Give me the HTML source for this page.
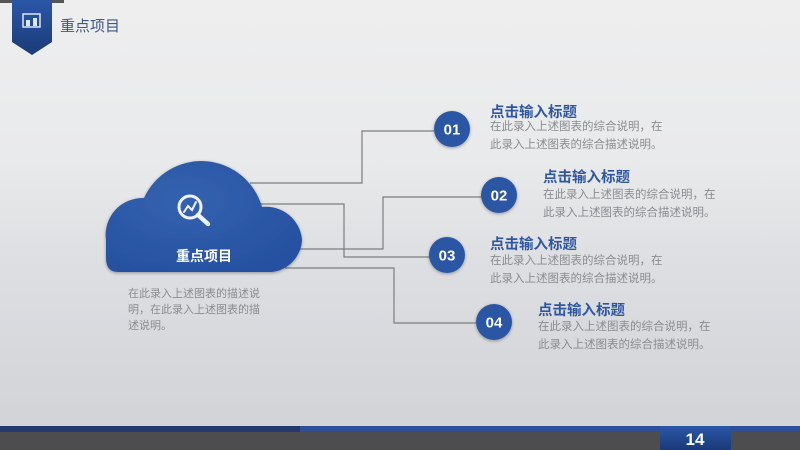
<!DOCTYPE html>
<html><head><meta charset="utf-8"><style>
html,body{margin:0;padding:0}
body{width:800px;height:450px;overflow:hidden;position:relative;font-family:"Liberation Sans","Noto Sans CJK SC",sans-serif;background:linear-gradient(180deg,#eeeeef 0%,#e9eaeb 35%,#dcdee1 60%,#d3d4d7 92%)}
.t{position:absolute;white-space:nowrap}
.h{color:#2f56a0;font-weight:bold;font-size:14.5px}
.d{color:#8a8c90;font-size:11.5px;line-height:17.5px}
</style></head><body>
<svg width="800" height="450" style="position:absolute;left:0;top:0">
<defs>
<linearGradient id="pb" x1="0" y1="0" x2="0" y2="1"><stop offset="0" stop-color="#2b57a8"/><stop offset="1" stop-color="#1b3a78"/></linearGradient>
<radialGradient id="cg" cx="0.4" cy="0.35" r="0.7"><stop offset="0" stop-color="#3462b0"/><stop offset="1" stop-color="#2651a0"/></radialGradient>
<filter id="sh" x="-20%" y="-20%" width="140%" height="140%"><feDropShadow dx="0" dy="1" stdDeviation="1.5" flood-color="#000" flood-opacity="0.35"/></filter>
</defs>
<rect x="0" y="0" width="64" height="3" fill="#555"/>
<path d="M12 0H52V42L32 55L12 42Z" fill="url(#pb)"/>
<rect x="23" y="14" width="17" height="13" fill="none" stroke="#dfe6f3" stroke-width="1.5"/>
<rect x="26" y="20" width="4" height="6" fill="#dfe6f3"/><rect x="33" y="18" width="4" height="8" fill="#dfe6f3"/>
<g stroke="#7b7d82" stroke-width="1.2" fill="none">
<polyline points="250,183 362,183 362,131 434,131"/>
<polyline points="258,204 344,204 344,257 430,257"/>
<polyline points="295,249 383,249 383,197 481,197"/>
<polyline points="285,268 394,268 394,323 476,323"/>
</g>
<g filter="url(#sh)">
<path d="M118 272 Q106 272 106 258 L106 240 A37 37 0 0 1 144 198 A63 63 0 0 1 262 207 A36 36 0 0 1 302 240 A34 34 0 0 1 272 272 Z" fill="url(#cg)"/>
</g>
<g stroke="#eef2f9" fill="none" stroke-linecap="round">
<circle cx="190" cy="207" r="11" stroke-width="3"/>
<line x1="198" y1="215" x2="208" y2="224" stroke-width="4.5"/>
<polyline points="184,212 188,206 192,210 196,202" stroke-width="2"/>
</g>
<g filter="url(#sh)">
<circle cx="452" cy="129" r="18" fill="#2a56a4"/>
<circle cx="499" cy="195" r="18" fill="#2a56a4"/>
<circle cx="447" cy="255" r="18" fill="#2a56a4"/>
<circle cx="494" cy="322" r="18" fill="#2a56a4"/>
</g>
<g fill="#fff" font-family="Liberation Sans,sans-serif" font-weight="bold" font-size="15" text-anchor="middle">
<text x="452" y="134.5">01</text><text x="499" y="200.5">02</text><text x="447" y="260.5">03</text><text x="494" y="327.5">04</text>
</g>
<rect x="0" y="426" width="800" height="6" fill="#2c4f98"/>
<rect x="0" y="426" width="300" height="6" fill="#1e2f5e" opacity="0.7"/>
<rect x="0" y="432" width="800" height="18" fill="#4d4d4f"/>
<rect x="660" y="426" width="71" height="24" fill="url(#pb)"/>
<text x="695" y="445" fill="#fff" font-family="Liberation Sans,sans-serif" font-weight="bold" font-size="17" text-anchor="middle">14</text>
</svg>
<div class="t" style="left:60px;top:15px;font-size:15px;color:#3b5889">重点项目</div>
<div class="t" style="left:176px;top:246px;font-size:14px;font-weight:bold;color:#fff">重点项目</div>
<div class="t" style="left:128px;top:286px;font-size:11px;line-height:16px;color:#8a8c90">在此录入上述图表的描述说<br>明，在此录入上述图表的描<br>述说明。</div>
<div class="t h" style="left:490px;top:101px">点击输入标题</div>
<div class="t d" style="left:490px;top:119px">在此录入上述图表的综合说明，在<br>此录入上述图表的综合描述说明。</div>
<div class="t h" style="left:543px;top:166px">点击输入标题</div>
<div class="t d" style="left:543px;top:187px">在此录入上述图表的综合说明，在<br>此录入上述图表的综合描述说明。</div>
<div class="t h" style="left:490px;top:233px">点击输入标题</div>
<div class="t d" style="left:490px;top:253px">在此录入上述图表的综合说明，在<br>此录入上述图表的综合描述说明。</div>
<div class="t h" style="left:538px;top:299px">点击输入标题</div>
<div class="t d" style="left:538px;top:319px">在此录入上述图表的综合说明，在<br>此录入上述图表的综合描述说明。</div>
</body></html>
